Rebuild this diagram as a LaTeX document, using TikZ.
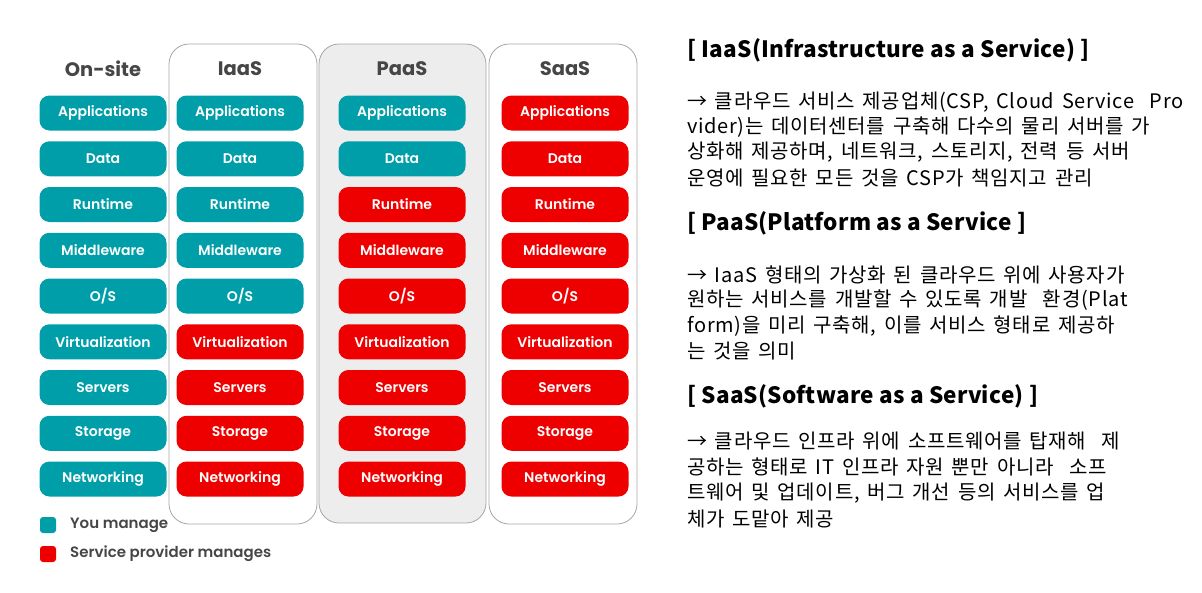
\documentclass[tikz,border=0pt]{standalone}
\usepackage{fontspec}
\setmainfont{Poppins}[BoldFont={Poppins SemiBold}]
\newfontfamily\headfont{Poppins}
\newfontfamily\krfont{Noto Sans CJK KR}[WordSpace=1.5,LetterSpace=3.5]
\newfontfamily\krtitle{Noto Sans CJK KR}[LetterSpace=1]
\usetikzlibrary{positioning}
\definecolor{tealbox}{RGB}{0,158,168}
\definecolor{redbox}{RGB}{238,0,0}
\definecolor{panelgray}{RGB}{237,237,237}
\definecolor{headgray}{RGB}{70,70,70}

\begin{document}
\begin{tikzpicture}[x=1pt,y=-1pt,
  layer/.style={rounded corners=10pt,minimum width=127pt,minimum height=35pt,inner sep=0pt,font=\fontsize{14}{14}\selectfont\bfseries,text=white},
  you/.style={layer,fill=tealbox},
  csp/.style={layer,fill=redbox},
  panel/.style={draw=gray!70,rounded corners=20pt,line width=0.8pt},
  colhead/.style={font=\headfont\fontsize{19.5}{19.5}\selectfont\bfseries,text=headgray},
  keybox/.style={rounded corners=3pt,minimum size=16pt,inner sep=0pt},
  keytext/.style={anchor=west,inner sep=0pt,font=\fontsize{15}{15}\selectfont\bfseries,text=headgray},
  title/.style={anchor=west,inner sep=0pt,font=\krtitle\fontsize{22.5}{22.5}\selectfont\bfseries},
  body/.style={anchor=west,inner sep=0pt,font=\krfont\fontsize{20}{20}\selectfont}]
\useasboundingbox (0,0) rectangle (1202,592);
% stack panels
\draw[panel] (169,44) rectangle (317,524);
\draw[panel,fill=panelgray] (319,44) rectangle (486,523);
\draw[panel] (489,44) rectangle (637,524);
\node[colhead] (onsite) at (103,69) {On-site};\node[colhead] (iaas) at (240,69) {IaaS};
\node[colhead] (paas) at (402,69) {PaaS};\node[colhead] (saas) at (565,69) {SaaS};
% layers, first \k of each column are user managed
\foreach \col/\cx/\k in {on/103/9,ia/240/5,pa/402/2,sa/565/0}
  \foreach \lab [count=\i] in {Applications,Data,Runtime,Middleware,O/S,Virtualization,Servers,Storage,Networking}{
    \ifnum\i>\k \def\sty{csp}\else\def\sty{you}\fi
    \node[\sty] (\col-\i) at (\cx,{113+(\i-1)*45.75}) {\lab};}
% legend
\node[keybox,fill=tealbox] (keyyou) at (48,525) {};\node[keytext] (keyyoutxt) at (70,525) {You manage};
\node[keybox,fill=redbox] (keycsp) at (48,554) {};\node[keytext] (keycsptxt) at (70,554) {Service provider manages};
% explanations
\node[title] (tiaas) at (687,50) {[ IaaS(Infrastructure as a Service) ]};
\node[body] (biaas1) at (687,102) {→ 클라우드 서비스 제공업체(CSP, Cloud Service\ \ Pro};
\node[body] (biaas2) at (687,127) {vider)는 데이터센터를 구축해 다수의 물리 서버를 가};
\node[body] (biaas3) at (687,152) {상화해 제공하며, 네트워크, 스토리지, 전력 등 서버};
\node[body] (biaas4) at (687,178) {운영에 필요한 모든 것을 CSP가 책임지고 관리};
\node[title] (tpaas) at (687,223) {[ PaaS(Platform as a Service ]};
\node[body] (bpaas1) at (687,275) {→ IaaS 형태의 가상화 된 클라우드 위에 사용자가};
\node[body] (bpaas2) at (687,300) {원하는 서비스를 개발할 수 있도록 개발\ \ 환경(Plat};
\node[body] (bpaas3) at (687,326) {form)을 미리 구축해, 이를 서비스 형태로 제공하};
\node[body] (bpaas4) at (687,351) {는 것을 의미};
\node[title] (tsaas) at (687,396) {[ SaaS(Software as a Service) ]};
\node[body] (bsaas1) at (687,441) {→ 클라우드 인프라 위에 소프트웨어를 탑재해\ \ 제};
\node[body] (bsaas2) at (687,467) {공하는 형태로 IT 인프라 자원 뿐만 아니라\ \ 소프};
\node[body] (bsaas3) at (687,493) {트웨어 및 업데이트, 버그 개선 등의 서비스를 업};
\node[body] (bsaas4) at (687,519) {체가 도맡아 제공};
\end{tikzpicture}
\end{document}
